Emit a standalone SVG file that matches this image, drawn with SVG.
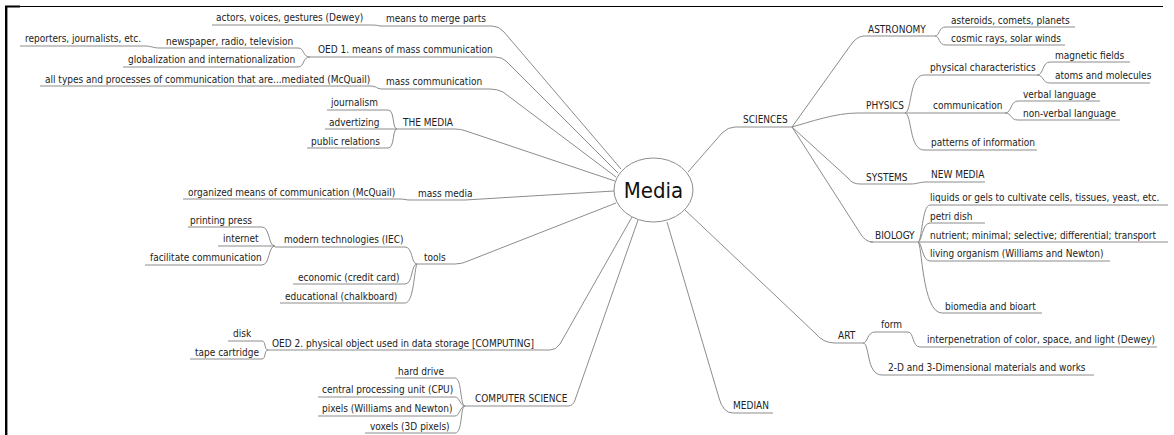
<svg xmlns="http://www.w3.org/2000/svg" width="1174" height="435" viewBox="0 0 1174 435">
<style>
text{font-family:"DejaVu Sans Condensed","Liberation Sans",sans-serif;font-size:10px;fill:#222}
.u{stroke:#8c8c8c;stroke-width:1;fill:none}
.c{stroke:#8c8c8c;stroke-width:1;fill:none}
.big{font-size:22px;fill:#111}
</style>
<rect width="1174" height="435" fill="#fff"/>
<g id="frame">
<line x1="5" y1="6.5" x2="1163" y2="6.5" stroke="#000" stroke-width="1.2"/>
<line x1="5" y1="6.5" x2="20" y2="6.5" stroke="#000" stroke-width="2"/>
<line x1="6.2" y1="6" x2="6.2" y2="435" stroke="#000" stroke-width="2.4"/>
</g>
<g id="connectors">
<path class="c" d="M492 26 Q499 26 504 32 L621 169"/>
<path class="c" d="M495 57 Q502 57 506 61 L618 173"/>
<path class="c" d="M490 89 Q497 89 503 92 L616 177"/>
<path class="c" d="M455 129 Q461 129 466 131 L615 181"/>
<path class="c" d="M465 200 L614 191"/>
<path class="c" d="M455 264 Q462 264 468 261 L616 203"/>
<path class="c" d="M550 350 Q556 350 560 344 L632 217"/>
<path class="c" d="M568 406 Q573 406 575 400 L638 220"/>
<path class="c" d="M735 127 Q728 127 722 133 L688 172"/>
<path class="c" d="M685 210 L815 333 Q823 343 835 343"/>
<path class="c" d="M667 222 L719 398 Q723 413 733 413"/>
<path class="c" d="M372 25 Q377 25 380 26"/>
<path class="c" d="M298 48 C305 48 302 57 310 57"/>
<path class="c" d="M298 67 C305 67 302 57 310 57"/>
<path class="c" d="M145 46 C152 46 152 48 160 48"/>
<path class="c" d="M370 86 C377 86 376 89 383 89"/>
<path class="c" d="M388 110 C395 110 392 129 397 129"/>
<path class="c" d="M388 148 C395 148 392 129 397 129"/>
<path class="c" d="M400 199 C405 199 405 200 410 200"/>
<path class="c" d="M405 247 C413 247 411 264 417 264"/>
<path class="c" d="M405 284 C413 284 411 264 417 264"/>
<path class="c" d="M405 303 C414 303 414 270 417 264"/>
<path class="c" d="M262 227 C270 227 268 246 275 246"/>
<path class="c" d="M262 265 C270 265 268 246 275 246"/>
<path class="c" d="M262 341 C266 341 264 350 268 350"/>
<path class="c" d="M262 359 C266 359 264 350 268 350"/>
<path class="c" d="M455 378 C462 378 460 406 465 406"/>
<path class="c" d="M455 397 C460 397 460 406 465 406"/>
<path class="c" d="M455 416 C460 416 460 406 465 406"/>
<path class="c" d="M455 433 C463 433 460 406 465 406"/>
<path class="c" d="M792 127 L850 46 Q856 37 863 36"/>
<path class="c" d="M792 127 C810 122 835 113 858 113"/>
<path class="c" d="M792 127 L848 178 Q852 184 860 184"/>
<path class="c" d="M792 127 L860 233 Q865 242 873 242"/>
<path class="c" d="M935 36 C940 36 938 27 946 27"/>
<path class="c" d="M935 36 C940 36 938 45 946 45"/>
<path class="c" d="M905 113 C912 112 909 75 924 75"/>
<path class="c" d="M905 113 C912 114 909 150 924 150"/>
<path class="c" d="M1037 75 C1044 75 1042 62 1050 62"/>
<path class="c" d="M1037 75 C1044 75 1042 83 1050 83"/>
<path class="c" d="M1005 113 C1012 113 1010 101 1018 101"/>
<path class="c" d="M1005 113 C1012 113 1010 120 1018 120"/>
<path class="c" d="M910 184 C918 184 919 182 927 182"/>
<path class="c" d="M918 242 C922 242 922 205 930 205"/>
<path class="c" d="M918 242 C922 242 922 223 930 223"/>
<path class="c" d="M918 242 L930 242"/>
<path class="c" d="M918 242 C922 242 922 261 930 261"/>
<path class="c" d="M918 242 C922 242 922 313 942 313"/>
<path class="c" d="M863 343 C868 343 867 332 875 332"/>
<path class="c" d="M863 343 C870 343 866 375 882 375"/>
<path class="c" d="M908 332 C914 332 912 347 920 347"/>
</g>
<g id="n-media">
<ellipse cx="653.5" cy="190" rx="39.5" ry="32" fill="#fff" stroke="#8c8c8c" stroke-width="1"/>
<text class="big" x="653.5" y="198" text-anchor="middle">Media</text>
</g>
<g id="n-merge"><text x="386" y="22">means to merge parts</text><line class="u" x1="380" y1="26" x2="492" y2="26"/></g>
<g id="n-actors"><text x="216" y="21">actors, voices, gestures (Dewey)</text><line class="u" x1="212" y1="25" x2="372" y2="25"/></g>
<g id="n-oed1"><text x="318" y="53">OED 1. means of mass communication</text><line class="u" x1="310" y1="57" x2="495" y2="57"/></g>
<g id="n-newspaper"><text x="166" y="45">newspaper, radio, television</text><line class="u" x1="160" y1="48" x2="298" y2="48"/></g>
<g id="n-reporters"><text x="25" y="42">reporters, journalists, etc.</text><line class="u" x1="20" y1="46" x2="145" y2="46"/></g>
<g id="n-global"><text x="128" y="63">globalization and internationalization</text><line class="u" x1="123" y1="67" x2="298" y2="67"/></g>
<g id="n-masscomm"><text x="386" y="85">mass communication</text><line class="u" x1="383" y1="89" x2="490" y2="89"/></g>
<g id="n-alltypes"><text x="45" y="83">all types and processes of communication that are...mediated (McQuail)</text><line class="u" x1="40" y1="86" x2="370" y2="86"/></g>
<g id="n-themedia"><text x="403" y="126">THE MEDIA</text><line class="u" x1="390" y1="129" x2="455" y2="129"/></g>
<g id="n-journalism"><text x="331" y="106">journalism</text><line class="u" x1="327" y1="110" x2="388" y2="110"/></g>
<g id="n-advertizing"><text x="329" y="126">advertizing</text><line class="u" x1="325" y1="129" x2="390" y2="129"/></g>
<g id="n-pr"><text x="311" y="145">public relations</text><line class="u" x1="307" y1="148" x2="388" y2="148"/></g>
<g id="n-massmedia"><text x="418" y="197">mass media</text><line class="u" x1="410" y1="200" x2="465" y2="200"/></g>
<g id="n-organized"><text x="188" y="196">organized means of communication (McQuail)</text><line class="u" x1="183" y1="199" x2="400" y2="199"/></g>
<g id="n-tools"><text x="424" y="261">tools</text><line class="u" x1="417" y1="264" x2="455" y2="264"/></g>
<g id="n-modern"><text x="284" y="243">modern technologies (IEC)</text><line class="u" x1="275" y1="247" x2="405" y2="247"/></g>
<g id="n-economic"><text x="298" y="281">economic (credit card)</text><line class="u" x1="293" y1="284" x2="405" y2="284"/></g>
<g id="n-educational"><text x="285" y="300">educational (chalkboard)</text><line class="u" x1="280" y1="303" x2="405" y2="303"/></g>
<g id="n-printing"><text x="190" y="224">printing press</text><line class="u" x1="188" y1="227" x2="262" y2="227"/></g>
<g id="n-internet"><text x="223" y="242">internet</text><line class="u" x1="218" y1="246" x2="275" y2="246"/></g>
<g id="n-facilitate"><text x="150" y="261">facilitate communication</text><line class="u" x1="145" y1="265" x2="262" y2="265"/></g>
<g id="n-oed2"><text x="272" y="347">OED 2. physical object used in data storage [COMPUTING]</text><line class="u" x1="268" y1="350" x2="550" y2="350"/></g>
<g id="n-disk"><text x="233" y="337">disk</text><line class="u" x1="228" y1="341" x2="262" y2="341"/></g>
<g id="n-tape"><text x="195" y="356">tape cartridge</text><line class="u" x1="190" y1="359" x2="262" y2="359"/></g>
<g id="n-cs"><text x="475" y="402">COMPUTER SCIENCE</text><line class="u" x1="465" y1="406" x2="568" y2="406"/></g>
<g id="n-hard"><text x="398" y="375">hard drive</text><line class="u" x1="395" y1="378" x2="455" y2="378"/></g>
<g id="n-cpu"><text x="322" y="393">central processing unit (CPU)</text><line class="u" x1="318" y1="397" x2="455" y2="397"/></g>
<g id="n-pixels"><text x="322" y="412">pixels (Williams and Newton)</text><line class="u" x1="318" y1="416" x2="455" y2="416"/></g>
<g id="n-voxels"><text x="370" y="430">voxels (3D pixels)</text><line class="u" x1="365" y1="433" x2="455" y2="433"/></g>
<g id="n-sciences"><text x="743" y="123">SCIENCES</text><line class="u" x1="735" y1="127" x2="792" y2="127"/></g>
<g id="n-astronomy"><text x="868" y="33">ASTRONOMY</text><line class="u" x1="863" y1="36" x2="935" y2="36"/></g>
<g id="n-asteroids"><text x="951" y="24">asteroids, comets, planets</text><line class="u" x1="946" y1="27" x2="1075" y2="27"/></g>
<g id="n-cosmic"><text x="951" y="42">cosmic rays, solar winds</text><line class="u" x1="946" y1="45" x2="1065" y2="45"/></g>
<g id="n-physics"><text x="866" y="109">PHYSICS</text><line class="u" x1="858" y1="113" x2="905" y2="113"/></g>
<g id="n-physchar"><text x="930" y="71">physical characteristics</text><line class="u" x1="924" y1="75" x2="1037" y2="75"/></g>
<g id="n-magnetic"><text x="1055" y="59">magnetic fields</text><line class="u" x1="1050" y1="62" x2="1130" y2="62"/></g>
<g id="n-atoms"><text x="1055" y="79">atoms and molecules</text><line class="u" x1="1050" y1="83" x2="1150" y2="83"/></g>
<g id="n-communication"><text x="933" y="109">communication</text><line class="u" x1="905" y1="113" x2="1005" y2="113"/></g>
<g id="n-verbal"><text x="1023" y="98">verbal language</text><line class="u" x1="1018" y1="101" x2="1100" y2="101"/></g>
<g id="n-nonverbal"><text x="1023" y="117">non-verbal language</text><line class="u" x1="1018" y1="120" x2="1120" y2="120"/></g>
<g id="n-patterns"><text x="931" y="146">patterns of information</text><line class="u" x1="924" y1="150" x2="1037" y2="150"/></g>
<g id="n-systems"><text x="866" y="181">SYSTEMS</text><line class="u" x1="860" y1="184" x2="910" y2="184"/></g>
<g id="n-newmedia"><text x="931" y="178">NEW MEDIA</text><line class="u" x1="927" y1="182" x2="985" y2="182"/></g>
<g id="n-biology"><text x="875" y="239">BIOLOGY</text><line class="u" x1="870" y1="242" x2="918" y2="242"/></g>
<g id="n-liquids"><text x="930" y="201">liquids or gels to cultivate cells, tissues, yeast, etc.</text><line class="u" x1="930" y1="205" x2="1168" y2="205"/></g>
<g id="n-petri"><text x="930" y="220">petri dish</text><line class="u" x1="930" y1="223" x2="985" y2="223"/></g>
<g id="n-nutrient"><text x="930" y="239">nutrient; minimal; selective; differential; transport</text><line class="u" x1="930" y1="242" x2="1168" y2="242"/></g>
<g id="n-living"><text x="930" y="257">living organism (Williams and Newton)</text><line class="u" x1="930" y1="261" x2="1110" y2="261"/></g>
<g id="n-biomedia"><text x="945" y="310">biomedia and bioart</text><line class="u" x1="942" y1="313" x2="1042" y2="313"/></g>
<g id="n-art"><text x="838" y="339">ART</text><line class="u" x1="835" y1="343" x2="863" y2="343"/></g>
<g id="n-form"><text x="881" y="328">form</text><line class="u" x1="875" y1="332" x2="908" y2="332"/></g>
<g id="n-interpen"><text x="927" y="343">interpenetration of color, space, and light (Dewey)</text><line class="u" x1="920" y1="347" x2="1157" y2="347"/></g>
<g id="n-2d"><text x="888" y="371">2-D and 3-Dimensional materials and works</text><line class="u" x1="882" y1="375" x2="1094" y2="375"/></g>
<g id="n-median"><text x="733" y="409">MEDIAN</text><line class="u" x1="733" y1="413" x2="773" y2="413"/></g>
</svg>
